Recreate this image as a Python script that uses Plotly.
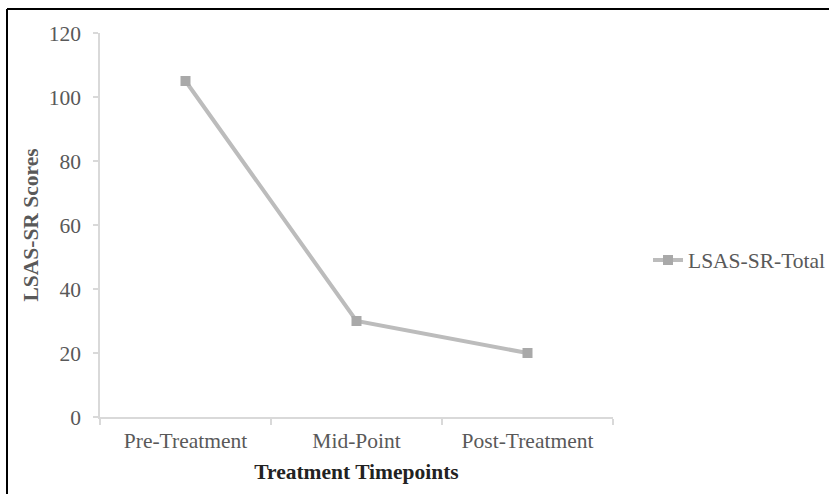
import plotly.graph_objects as go

categories = ["Pre-Treatment", "Mid-Point", "Post-Treatment"]
scores = [105, 30, 20]
series_name = "LSAS-SR-Total"
y_ticks = [0, 20, 40, 60, 80, 100, 120]

W, H = 829, 494
L, R, T, B = 100, 216, 33, 77
pw, ph = W - L - R, H - T - B

FONT = "Liberation Serif, Times New Roman, serif"
FS = 21.5

fig = go.Figure()
fig.add_trace(go.Scatter(
    x=categories, y=scores, mode="lines+markers", name=series_name,
    line=dict(color="#BCBCBC", width=4),
    marker=dict(symbol="square", size=10, color="#A9A9A9"),
))

def px_x(x):
    return (x - L) / pw

def px_y(y):
    return (H - B - y) / ph

fig.update_layout(
    width=W, height=H,
    margin=dict(l=L, r=R, t=T, b=B, autoexpand=False),
    plot_bgcolor="white", paper_bgcolor="white",
    font=dict(family=FONT, size=FS, color="#595959"),
    showlegend=True,
    legend=dict(x=px_x(648), y=px_y(260), xanchor="left", yanchor="middle",
                itemwidth=30, borderwidth=0,
                font=dict(size=FS, color="#595959"), bgcolor="rgba(0,0,0,0)"),
    xaxis=dict(
        type="category", range=[-0.5, 2.5], showline=True, linecolor="#D9D9D9", linewidth=1.5,
        ticks="outside", tickson="boundaries", ticklen=6, tickcolor="#D9D9D9", tickwidth=1.5,
        showgrid=False, zeroline=False, ticklabelstandoff=3,
        tickfont=dict(size=FS, color="#595959"),
        title=dict(text="<b>Treatment Timepoints</b>", font=dict(size=FS, color="#222222"), standoff=12),
    ),
    yaxis=dict(
        range=[0, 120], tickvals=y_ticks, showline=True, linecolor="#D9D9D9", linewidth=1.5,
        ticks="outside", ticklen=5, tickcolor="#D9D9D9", tickwidth=1.5,
        showgrid=False, zeroline=False, ticklabelstandoff=8,
        tickfont=dict(size=FS, color="#595959"),
        title=dict(text="<b>LSAS-SR Scores</b>", font=dict(size=FS, color="#595959"), standoff=4),
    ),
)

# outer border (top and left visible, right/bottom run off the image)
fig.add_shape(type="line", xref="paper", yref="paper",
              x0=px_x(7), x1=px_x(840), y0=px_y(9), y1=px_y(9),
              line=dict(color="black", width=2))
fig.add_shape(type="line", xref="paper", yref="paper",
              x0=px_x(7), x1=px_x(7), y0=px_y(9), y1=px_y(505),
              line=dict(color="black", width=2))

fig.write_html("out.html", config={"displayModeBar": False},
               post_script="document.body.style.margin='0';")
